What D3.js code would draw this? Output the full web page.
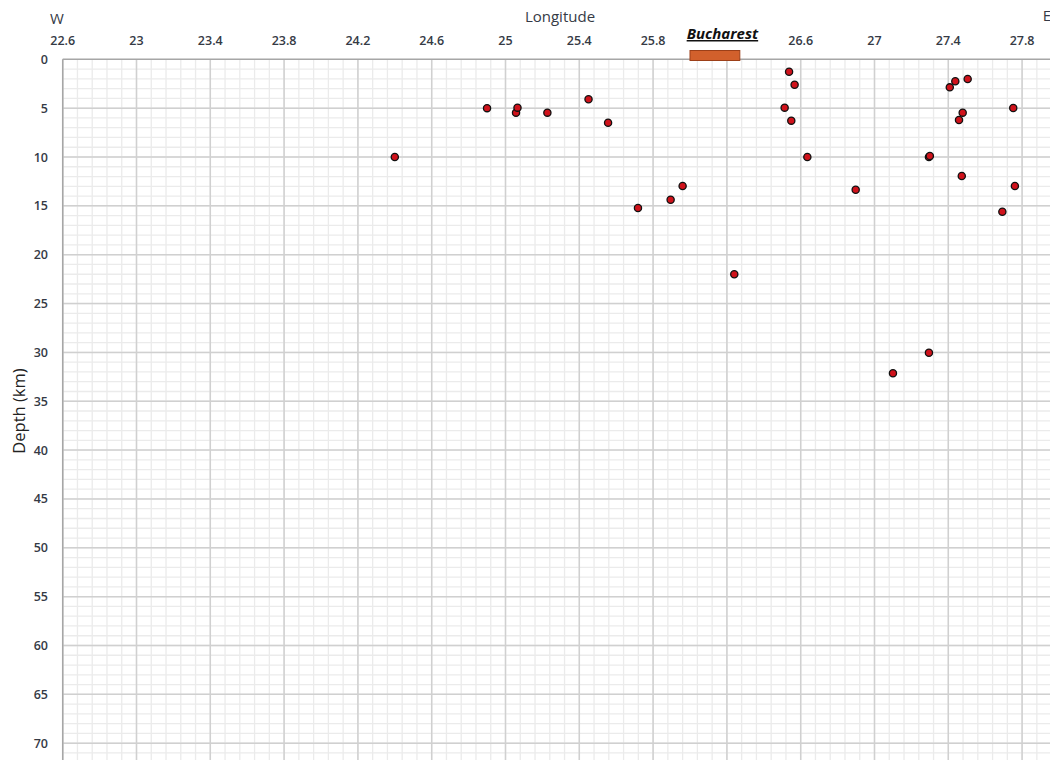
<!DOCTYPE html>
<html><head><meta charset="utf-8">
<script src="https://cdn.jsdelivr.net/npm/d3@7"></script>
<style>
html,body{margin:0;padding:0;background:#fff;}
text{font-family:"Open Sans","Liberation Sans",sans-serif;}
</style></head>
<body><svg id="c" width="1050" height="760"></svg>
<script>
// Data: earthquakes (longitude, depth km)
const longitudes = [24.40,24.90,25.057,25.065,25.227,25.45,25.556,25.718,25.895,25.96,26.24,27.295,27.10,
  26.537,26.567,26.513,26.549,26.636,26.898,27.295,27.30,27.408,27.438,27.505,27.478,27.458,27.752,27.473,27.761,27.693];
const depths = [10,5,5.46,4.95,5.46,4.09,6.49,15.22,14.37,12.97,22,30.03,32.14,
  1.27,2.6,4.95,6.28,10,13.35,10,9.9,2.87,2.25,2.02,5.46,6.21,4.98,11.94,12.97,15.6];
// 26.2 gridline exists but its label is hidden behind the "Bucharest" label in the reference
const xGridValues = [22.6,23,23.4,23.8,24.2,24.6,25,25.4,25.8,26.2,26.6,27,27.4,27.8,28.2];
const xTickLabels = ["22.6","23","23.4","23.8","24.2","24.6","25","25.4","25.8","26.6","27","27.4","27.8"];
const yTickLabels = ["0","5","10","15","20","25","30","35","40","45","50","55","60","65","70"];
const bucharestRange = [26.0, 26.27];
const xDomain = [22.6, 28.0];
const yDomain = [0, 72.5];

const svg = d3.select("#c");
const pLeft = 62.7, pTop = 59.3;
const x = d3.scaleLinear().domain(xDomain).range([pLeft, pLeft + 5.4*184.5]);
const y = d3.scaleLinear().domain(yDomain).range([pTop, pTop + 72.5*9.77]);

svg.append("defs").append("clipPath").attr("id","clip")
  .append("rect").attr("x",pLeft).attr("y",pTop).attr("width",1050-pLeft).attr("height",760-pTop);
const g = svg.append("g").attr("clip-path","url(#clip)");

// minor grid
const minorX = d3.range(0, 68).map(i => 22.6 + i*0.08);
const minorY = d3.range(0, 73);
g.selectAll(".mx").data(minorX).join("line")
  .attr("x1",d=>x(d)).attr("x2",d=>x(d)).attr("y1",pTop).attr("y2",760)
  .attr("stroke","#ebebeb").attr("stroke-width",1.3);
g.selectAll(".my").data(minorY).join("line")
  .attr("y1",d=>y(d)).attr("y2",d=>y(d)).attr("x1",pLeft).attr("x2",1050)
  .attr("stroke","#ebebeb").attr("stroke-width",1.3);
// major grid
const majorY = yTickLabels.map(Number);
g.selectAll(".Mx").data(xGridValues).join("line")
  .attr("x1",d=>x(d)).attr("x2",d=>x(d)).attr("y1",pTop).attr("y2",760)
  .attr("stroke","#d0d0d0").attr("stroke-width",1.5);
g.selectAll(".My").data(majorY).join("line")
  .attr("y1",d=>y(d)).attr("y2",d=>y(d)).attr("x1",pLeft).attr("x2",1050)
  .attr("stroke","#d0d0d0").attr("stroke-width",1.5);

// axis lines
svg.append("line").attr("x1",pLeft).attr("x2",1050).attr("y1",pTop).attr("y2",pTop).attr("stroke","#a6a6a6").attr("stroke-width",1.5);
svg.append("line").attr("x1",pLeft).attr("x2",pLeft).attr("y1",pTop).attr("y2",760).attr("stroke","#a6a6a6").attr("stroke-width",1.5);

const txtColor = "#353a45";
// x tick labels (top)
svg.selectAll(".xt").data(xTickLabels).join("text")
  .attr("x",d=>x(+d)).attr("y",45).attr("text-anchor","middle")
  .attr("font-size",12.5).attr("font-weight",600).attr("fill",txtColor).text(d=>d);
// y tick labels
svg.selectAll(".yt").data(yTickLabels).join("text")
  .attr("x",48).attr("y",d=>y(+d)+4.5).attr("text-anchor","end")
  .attr("font-size",12.5).attr("font-weight",600).attr("fill",txtColor).text(d=>d);

// titles
svg.append("text").attr("x",560).attr("y",22).attr("text-anchor","middle")
  .attr("font-size",15).attr("fill",txtColor).text("Longitude");
svg.append("text").attr("transform","translate(25,411) rotate(-90)").attr("text-anchor","middle")
  .attr("font-size",16.5).attr("fill","#222").text("Depth (km)");
svg.append("text").attr("x",57).attr("y",24).attr("text-anchor","middle")
  .attr("font-size",15).attr("fill",txtColor).text("W");
svg.append("text").attr("x",1047).attr("y",21).attr("text-anchor","middle")
  .attr("font-size",15).attr("fill",txtColor).text("E");

// Bucharest label
const bx = (x(bucharestRange[0]) + x(bucharestRange[1]))/2;
svg.append("text").attr("x",bx+7.5).attr("y",39).attr("text-anchor","middle")
  .attr("font-size",15).attr("font-weight",700).attr("font-style","italic")
  .attr("text-decoration","underline").attr("fill","#111").text("Bucharest");
svg.append("rect").attr("x",x(bucharestRange[0])).attr("y",50.5)
  .attr("width",x(bucharestRange[1])-x(bucharestRange[0])).attr("height",10)
  .attr("fill","#d2602c").attr("stroke","#9c3f18").attr("stroke-width",1);

// points
const pts = longitudes.map((l,i)=>({lon:l, dep:depths[i]}));
svg.selectAll(".pt").data(pts).join("circle")
  .attr("cx",d=>x(d.lon)).attr("cy",d=>y(d.dep)).attr("r",3.6)
  .attr("fill","#d0121b").attr("stroke","#111").attr("stroke-width",1.3);
</script></body></html>
